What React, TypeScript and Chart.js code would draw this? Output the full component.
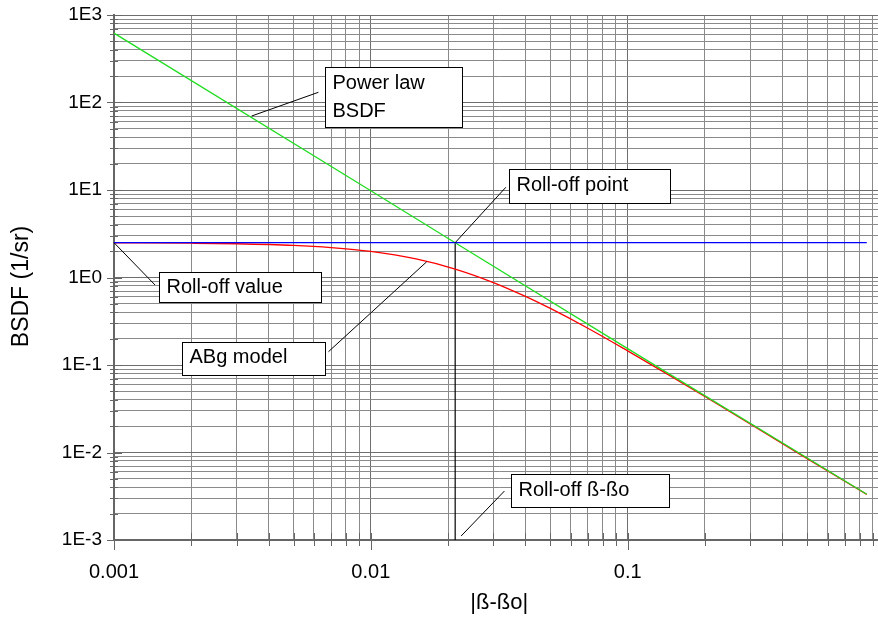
import React, { useEffect, useRef } from 'react';
import { Chart, registerables } from 'chart.js';

Chart.register(...registerables);

// ---- data ----
const powerLawX = [0.001, 0.01, 0.0213, 0.1, 0.853];
const powerLawY = [620, 9.8, 2.5, 0.154, 0.00333];

const rollOffX = [0.001, 0.853];
const rollOffY = [2.5, 2.5];

const abgX = [0.001, 0.002, 0.003, 0.005, 0.007, 0.01, 0.015, 0.0213, 0.03, 0.04, 0.05, 0.07, 0.1, 0.15, 0.2, 0.3, 0.5, 0.853];
const abgY = [2.49, 2.465, 2.43, 2.33, 2.2, 1.99, 1.63, 1.25, 0.876, 0.608, 0.443, 0.263, 0.145, 0.0723, 0.0436, 0.0212, 0.0085, 0.00332];

const markerX = [0.0213, 0.0213];
const markerY = [2.5, 0.001];

const xMajors = [0.001, 0.01, 0.1, 1];
const xTickLabels = ['0.001', '0.01', '0.1', '1'];
const yMajors = [0.001, 0.01, 0.1, 1, 10, 100, 1000];
const yTickLabels = ['1E-3', '1E-2', '1E-1', '1E0', '1E1', '1E2', '1E3'];
const minorSteps = [1, 2, 3, 4, 5, 6, 7, 8, 9];

const xTitle = '|ß-ßo|';
const yTitle = 'BSDF (1/sr)';

// annotation boxes (anchors in data coordinates)
const annotations = [
  { lines: ['Power law', 'BSDF'], box: [0.00664, 252], w: 137, h: 60, from: [0.003437, 70.1], to: [0.00625, 130.8], base: 21 },
  { lines: ['Roll-off point'], box: [0.03464, 17.25], w: 161, h: 34, from: [0.0213, 2.5], to: [0.03354, 10.74], base: 21 },
  { lines: ['Roll-off value'], box: [0.001497, 1.165], w: 162, h: 30, from: [0.001, 2.5], to: [0.001445, 0.821], base: 20 },
  { lines: ['ABg model'], box: [0.001845, 0.1846], w: 143, h: 33, from: [0.01651, 1.516], to: [0.00684, 0.1419], base: 20 },
  { lines: ['Roll-off ß-ßo'], box: [0.03518, 0.00564], w: 158, h: 33, from: [0.02246, 0.00111], to: [0.03313, 0.00363], base: 21 },
];

const FONT = '"Liberation Sans", Arial, sans-serif';

const buildTicks = (majors: number[], maxVal: number) => {
  const out: number[] = [];
  majors.forEach((m) => {
    minorSteps.forEach((s) => {
      const v = m * s;
      if (v <= maxVal * 1.0000001) out.push(v);
    });
  });
  return out;
};

const isMajor = (v: number) => Math.abs(Math.log10(v) - Math.round(Math.log10(v))) < 1e-9;

const labelFor = (v: number, majors: number[], labels: string[]) => {
  for (let i = 0; i < majors.length; i++) {
    if (Math.abs(Math.log10(v) - Math.log10(majors[i])) < 1e-9) return labels[i];
  }
  return '';
};

const toPts = (xs: number[], ys: number[]) => xs.map((x, i) => ({ x, y: ys[i] }));

const tickPlugin = {
  id: 'customTicks',
  beforeDatasetsDraw(chart: any) {
    const { ctx, chartArea, scales } = chart;
    ctx.save();
    ctx.strokeStyle = '#666666';
    ctx.lineWidth = 1;
    scales.x.ticks.forEach((t: any) => {
      const px = Math.round(scales.x.getPixelForValue(t.value)) + 0.5;
      const major = isMajor(t.value);
      ctx.beginPath();
      ctx.moveTo(px, chartArea.bottom - 7);
      ctx.lineTo(px, chartArea.bottom + (major ? 10 : 6));
      ctx.stroke();
    });
    scales.y.ticks.forEach((t: any) => {
      const py = Math.round(scales.y.getPixelForValue(t.value)) + 0.5;
      const major = isMajor(t.value);
      ctx.beginPath();
      ctx.moveTo(chartArea.left - (major ? 7 : 4), py);
      ctx.lineTo(chartArea.left + (major ? 8 : 4), py);
      ctx.stroke();
    });
    // y axis title, slightly below the plot's middle as in the reference
    ctx.fillStyle = '#000';
    ctx.font = `23px ${FONT}`;
    ctx.textAlign = 'center';
    ctx.textBaseline = 'middle';
    ctx.translate(22, (chartArea.top + chartArea.bottom) / 2 + 9);
    ctx.rotate(-Math.PI / 2);
    ctx.fillText(yTitle, 0, 0);
    ctx.restore();
  },
};

const annotationPlugin = {
  id: 'boxAnnotations',
  afterDatasetsDraw(chart: any) {
    const { ctx, scales } = chart;
    const sx = scales.x;
    const sy = scales.y;
    ctx.save();
    annotations.forEach((a) => {
      const fx = sx.getPixelForValue(a.from[0]);
      const fy = sy.getPixelForValue(a.from[1]);
      const tx = sx.getPixelForValue(a.to[0]);
      const ty = sy.getPixelForValue(a.to[1]);
      ctx.strokeStyle = '#000';
      ctx.lineWidth = 1;
      ctx.beginPath();
      ctx.moveTo(fx, fy);
      ctx.lineTo(tx, ty);
      ctx.stroke();
      const bx = Math.round(sx.getPixelForValue(a.box[0])) + 0.5;
      const by = Math.round(sy.getPixelForValue(a.box[1])) + 0.5;
      ctx.fillStyle = '#fff';
      ctx.fillRect(bx, by, a.w, a.h);
      ctx.strokeRect(bx, by, a.w, a.h);
      ctx.fillStyle = '#000';
      ctx.font = `20px ${FONT}`;
      ctx.textBaseline = 'alphabetic';
      ctx.textAlign = 'left';
      a.lines.forEach((ln, i) => {
        ctx.fillText(ln, bx + 7, by + a.base + i * 28);
      });
    });
    ctx.restore();
  },
};

const gridColor = (c: any) => (c.tick && isMajor(c.tick.value) ? '#6e6e6e' : '#8a8a8a');

export default function App() {
  const ref = useRef<HTMLCanvasElement | null>(null);

  useEffect(() => {
    if (!ref.current) return;
    const chart = new Chart(ref.current, {
      type: 'scatter',
      data: {
        datasets: [
          { data: toPts(rollOffX, rollOffY), showLine: true, borderColor: '#0000ff', borderWidth: 1.3, pointRadius: 0 },
          { data: toPts(powerLawX, powerLawY), showLine: true, borderColor: '#22dd22', borderWidth: 1.3, pointRadius: 0 },
          { data: toPts(abgX, abgY), showLine: true, borderColor: '#ff0000', borderWidth: 1.3, pointRadius: 0, cubicInterpolationMode: 'monotone' },
          { data: toPts(markerX, markerY), showLine: true, borderColor: '#000000', borderWidth: 1.2, pointRadius: 0 },
        ],
      } as any,
      plugins: [tickPlugin, annotationPlugin],
      options: {
        animation: false,
        responsive: false,
        maintainAspectRatio: false,
        layout: { padding: { left: 0, top: 15, right: 11.5, bottom: 0 } },
        plugins: { legend: { display: false }, tooltip: { enabled: false } },
        scales: {
          x: {
            type: 'logarithmic',
            min: 0.001,
            max: 1,
            afterBuildTicks: (scale: any) => {
              scale.ticks = buildTicks(xMajors, 1).map((v) => ({ value: v, major: isMajor(v) }));
            },
            afterFit: (scale: any) => {
              scale.height = 77;
              scale.paddingLeft = 0;
              scale.paddingRight = 0;
              scale.paddingTop = 0;
              scale.paddingBottom = 0;
            },
            grid: {
              drawTicks: false,
              color: gridColor,
              lineWidth: 1,
            },
            border: { display: true, color: '#666666', width: 2 },
            ticks: {
              autoSkip: false,
              maxRotation: 0,
              padding: 20,
              color: '#000',
              font: { family: FONT, size: 20 },
              callback: (v: any) => labelFor(Number(v), xMajors, xTickLabels),
            },
            title: {
              display: true,
              text: xTitle,
              color: '#000',
              font: { family: FONT, size: 22 },
              padding: { top: 0, bottom: 1 },
            },
          },
          y: {
            type: 'logarithmic',
            min: 0.001,
            max: 1000,
            afterBuildTicks: (scale: any) => {
              scale.ticks = buildTicks(yMajors, 1000).map((v) => ({ value: v, major: isMajor(v) }));
            },
            afterFit: (scale: any) => {
              scale.width = 114;
              scale.paddingLeft = 0;
              scale.paddingRight = 0;
              scale.paddingTop = 0;
              scale.paddingBottom = 0;
            },
            grid: {
              drawTicks: false,
              color: gridColor,
              lineWidth: 1,
            },
            border: { display: true, color: '#666666', width: 2 },
            ticks: {
              autoSkip: false,
              padding: 12,
              color: '#000',
              font: { family: FONT, size: 19 },
              callback: (v: any) => labelFor(Number(v), yMajors, yTickLabels),
            },
            title: { display: false },
          },
        },
      } as any,
    });
    return () => chart.destroy();
  }, []);

  return (
    <div style={{ position: 'fixed', left: 0, top: 0, width: 878, height: 617, overflow: 'hidden', background: '#fff' }}>
      <canvas ref={ref} width={896} height={617} style={{ width: 896, height: 617, display: 'block' }} />
    </div>
  );
}
